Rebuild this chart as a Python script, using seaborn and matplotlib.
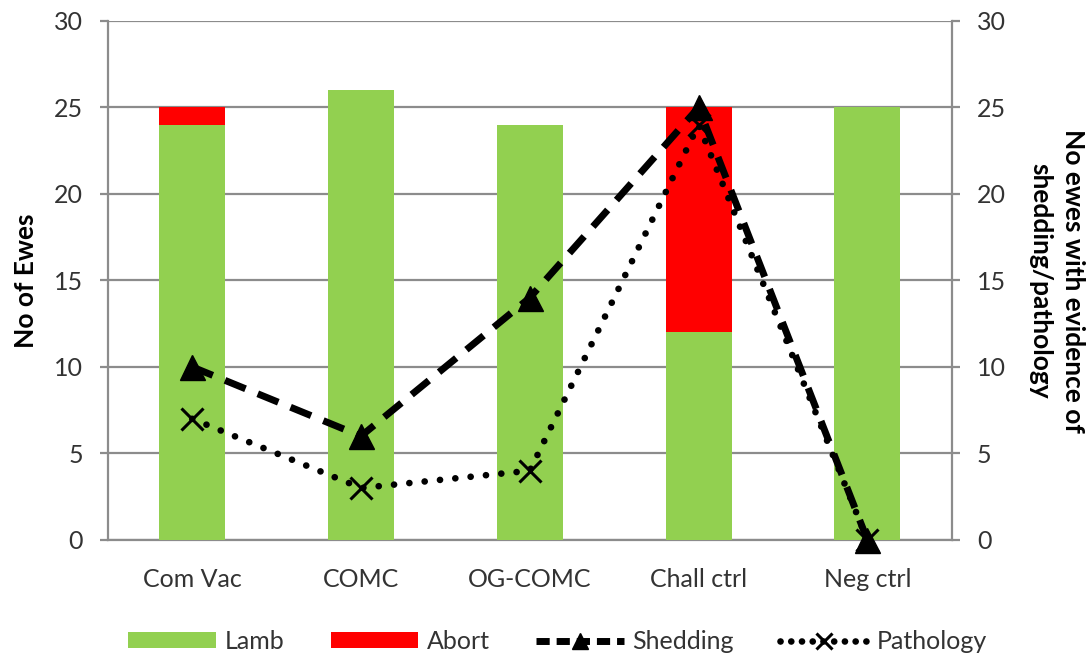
import matplotlib
matplotlib.use("Agg")
import matplotlib.pyplot as plt
import seaborn as sns
import numpy as np
import pandas as pd
from matplotlib.patches import Patch
from matplotlib.lines import Line2D

groups = ["Com Vac", "COMC", "OG-COMC", "Chall ctrl", "Neg ctrl"]
lamb = [24, 26, 24, 12, 25]
abort = [1, 0, 0, 13, 0]
shedding = [10, 6, 14, 25, 0]
pathology = [7, 3, 4, 24, 0]

sns.set_theme(style="white")
plt.rcParams["font.family"] = ["Lato", "DejaVu Sans"]

GREEN = "#92D050"
RED = "#FF0000"
GREY = "#8C8C8C"
TXT = "#333333"
FS = 18

df = pd.DataFrame({"group": groups, "lamb": lamb,
                   "total": np.array(lamb) + np.array(abort)})

fig = plt.figure(figsize=(10.89, 6.56), dpi=100)
ax = fig.add_axes([0.099, 0.177, 0.775, 0.791])

# Stacked bars: total in red, lamb drawn over it in green
sns.barplot(data=df, x="group", y="total", color=RED, width=0.39,
            saturation=1, ax=ax, zorder=2, edgecolor="none", linewidth=0)
sns.barplot(data=df, x="group", y="lamb", color=GREEN, width=0.39,
            saturation=1, ax=ax, zorder=3, edgecolor="none", linewidth=0)

ax.set_xlim(-0.5, 4.5)
ax.set_ylim(0, 30)
ax.set_yticks(range(0, 31, 5))
ax.yaxis.grid(True, color=GREY, linewidth=1.6, zorder=0)
ax.set_axisbelow(True)
ax.set_xlabel("")
ax.set_ylabel("No of Ewes", fontsize=19, fontweight="bold", color="black")
ax.yaxis.set_label_coords(-0.083, 0.5)
ax.set_xticks(range(len(groups)))
ax.set_xticklabels(groups)
ax.set_xticks(np.arange(-0.5, 5, 1), minor=True)
ax.tick_params(axis="x", which="major", length=0, labelsize=FS, pad=20,
               colors=TXT)
ax.tick_params(axis="x", which="minor", length=6, width=1.6, color=GREY)
ax.tick_params(axis="y", length=6, width=1.6, color=GREY, labelsize=FS,
               labelcolor=TXT, left=True, pad=12)
for side in ["left", "bottom"]:
    ax.spines[side].set_color(GREY)
    ax.spines[side].set_linewidth(1.6)
ax.spines["top"].set_visible(False)
ax.spines["right"].set_visible(False)

ax2 = ax.twinx()
ax2.set_ylim(0, 30)
ax2.set_yticks(range(0, 31, 5))
x = np.arange(len(groups))
ax2.plot(x, shedding, color="black", linewidth=5,
         linestyle=(0, (3.2, 1.9)), marker="^", markersize=18,
         zorder=5, clip_on=False)
ax2.plot(x, pathology, color="black", linewidth=4.8,
         linestyle=(0, (0.01, 2.3)), dash_capstyle="round",
         marker="x", markersize=16, markeredgewidth=2.2,
         zorder=4, clip_on=False)
ax2.set_ylabel("No ewes with evidence of\nshedding/pathology", fontsize=19,
               fontweight="bold", rotation=270, color="black",
               linespacing=1.45)
ax2.yaxis.set_label_coords(1.158, 0.5)
ax2.tick_params(axis="y", length=6, width=1.6, color=GREY, labelsize=FS,
                labelcolor=TXT, right=True, pad=12)
ax2.spines["right"].set_color(GREY)
ax2.spines["right"].set_linewidth(1.6)
for side in ["left", "top", "bottom"]:
    ax2.spines[side].set_visible(False)

handles = [
    Patch(facecolor=GREEN, edgecolor="none", label="Lamb"),
    Patch(facecolor=RED, edgecolor="none", label="Abort"),
    Line2D([], [], color="black", linewidth=5, linestyle=(0, (1.9, 1.0)),
           marker="^", markersize=11, label="Shedding"),
    Line2D([], [], color="black", linewidth=4.8, linestyle=(0, (0.01, 1.6)),
           dash_capstyle="round", marker="x", markersize=11,
           markeredgewidth=2.2, label="Pathology"),
]
fig.legend(handles=handles, loc="lower center", ncol=4, frameon=False,
           fontsize=FS, bbox_to_anchor=(0.512, -0.03), handlelength=3.5,
           handleheight=0.6, columnspacing=1.85, handletextpad=0.35,
           labelcolor=TXT)

fig.savefig("out.png", dpi=100)
